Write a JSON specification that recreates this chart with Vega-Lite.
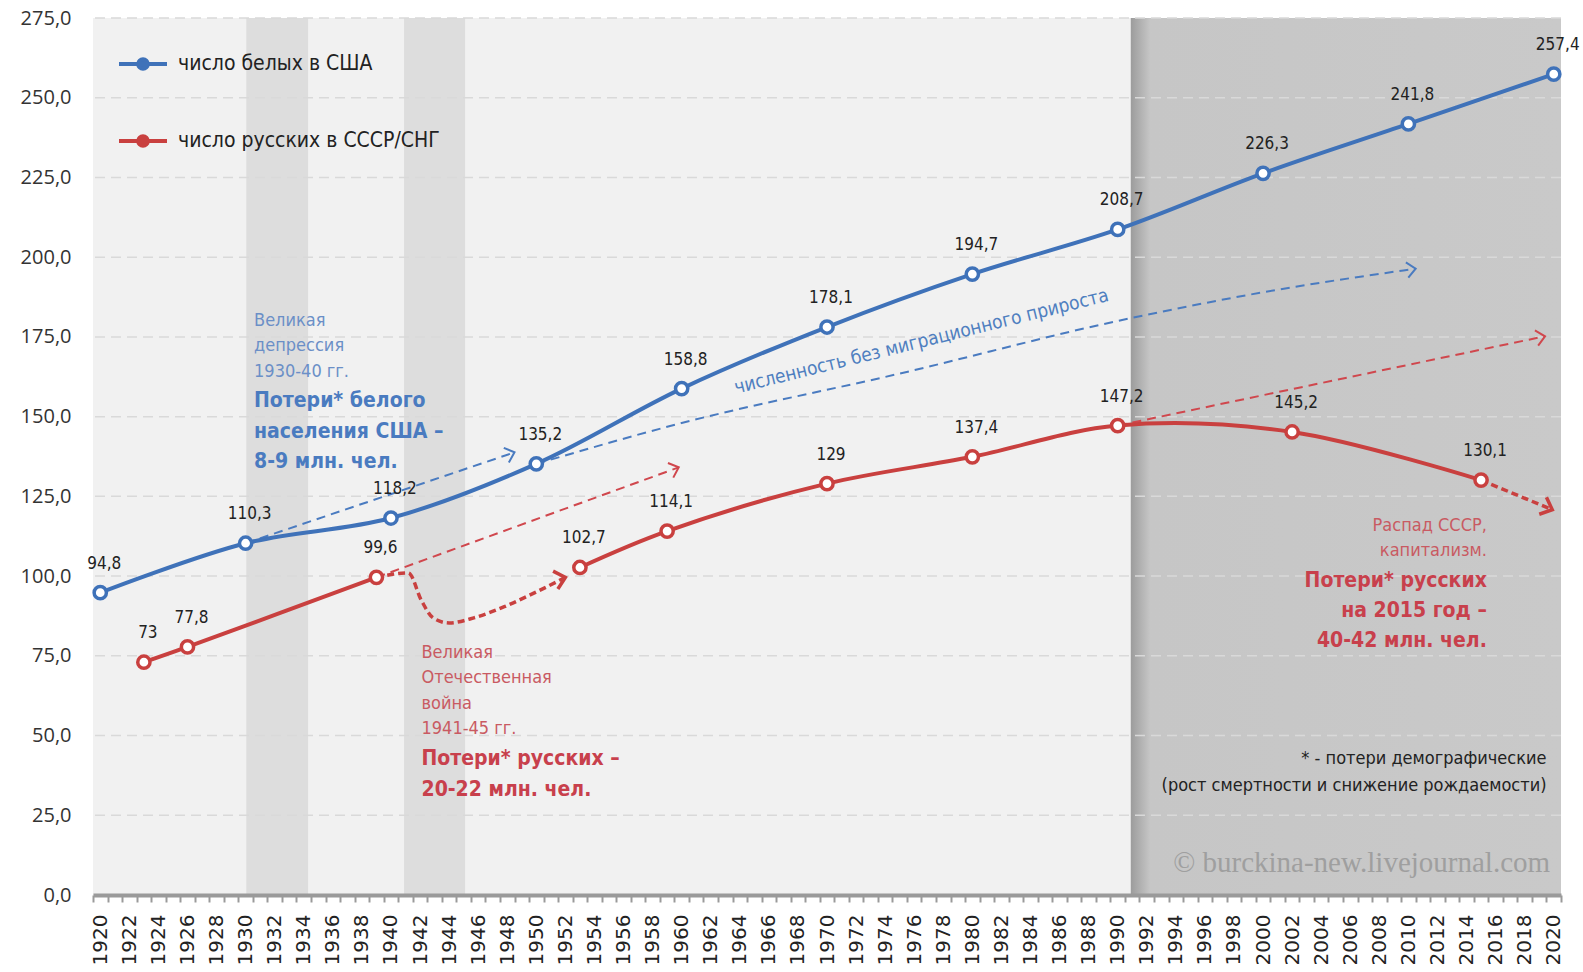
{
  "$schema": "https://vega.github.io/schema/vega-lite/v6.json",
  "width": 1468,
  "height": 877,
  "autosize": "none",
  "padding": {"left": 93, "top": 18, "right": 22, "bottom": 77},
  "background": "#ffffff",
  "config": {
    "view": {"stroke": null},
    "locale": {"number": {"decimal": ",", "thousands": " ", "grouping": [3], "currency": ["", ""]}},
    "font": "Liberation Sans Narrow, DejaVu Sans Condensed, Liberation Sans"
  },
  "resolve": {"axis": {"x": "independent"}},
  "datasets": {
    "lines": [
      {"series": "число белых в США", "seg": "us", "year": 1920, "value": 94.8},
      {"series": "число белых в США", "seg": "us", "year": 1930, "value": 110.3},
      {"series": "число белых в США", "seg": "us", "year": 1940, "value": 118.2},
      {"series": "число белых в США", "seg": "us", "year": 1950, "value": 135.2},
      {"series": "число белых в США", "seg": "us", "year": 1960, "value": 158.8},
      {"series": "число белых в США", "seg": "us", "year": 1970, "value": 178.1},
      {"series": "число белых в США", "seg": "us", "year": 1980, "value": 194.7},
      {"series": "число белых в США", "seg": "us", "year": 1990, "value": 208.7},
      {"series": "число белых в США", "seg": "us", "year": 2000, "value": 226.3},
      {"series": "число белых в США", "seg": "us", "year": 2010, "value": 241.8},
      {"series": "число белых в США", "seg": "us", "year": 2020, "value": 257.4},
      {"series": "число русских в СССР/СНГ", "seg": "ru1", "year": 1923, "value": 73},
      {"series": "число русских в СССР/СНГ", "seg": "ru1", "year": 1926, "value": 77.8},
      {"series": "число русских в СССР/СНГ", "seg": "ru1", "year": 1939, "value": 99.6},
      {"series": "число русских в СССР/СНГ", "seg": "ru2", "year": 1953, "value": 102.7},
      {"series": "число русских в СССР/СНГ", "seg": "ru2", "year": 1959, "value": 114.1},
      {"series": "число русских в СССР/СНГ", "seg": "ru2", "year": 1970, "value": 129},
      {"series": "число русских в СССР/СНГ", "seg": "ru2", "year": 1980, "value": 137.4},
      {"series": "число русских в СССР/СНГ", "seg": "ru2", "year": 1990, "value": 147.2},
      {"series": "число русских в СССР/СНГ", "seg": "ru2", "year": 2002, "value": 145.2},
      {"series": "число русских в СССР/СНГ", "seg": "ru2", "year": 2015, "value": 130.1}
    ],
    "dashUS": [
      {"id": "dep", "year": 1930, "value": 110.3},
      {"id": "dep", "year": 1948.5, "value": 138.8},
      {"id": "nomig", "year": 1950, "value": 135.2},
      {"id": "nomig", "year": 1960, "value": 148},
      {"id": "nomig", "year": 1975, "value": 163.5},
      {"id": "nomig", "year": 1990, "value": 180},
      {"id": "nomig", "year": 2000, "value": 189},
      {"id": "nomig", "year": 2010.5, "value": 196.4}
    ],
    "dashRU": [
      {"id": "war", "year": 1939, "value": 99.6},
      {"id": "war", "year": 1959.8, "value": 134.1},
      {"id": "post", "year": 1990, "value": 147.2},
      {"id": "post", "year": 2019.4, "value": 175.2}
    ],
    "dashRUthick": [
      {"id": "dip", "year": 1939, "value": 99.6},
      {"id": "dip", "year": 1941.2, "value": 101},
      {"id": "dip", "year": 1942.1, "value": 92.3},
      {"id": "dip", "year": 1942.9, "value": 86.9},
      {"id": "dip", "year": 1944, "value": 85.3},
      {"id": "dip", "year": 1945.7, "value": 86.9},
      {"id": "dip", "year": 1947.8, "value": 90.4},
      {"id": "dip", "year": 1949.9, "value": 94.8},
      {"id": "dip", "year": 1952, "value": 99.6},
      {"id": "fall", "year": 2015, "value": 130.1},
      {"id": "fall", "year": 2019.9, "value": 120.8}
    ]
  },
  "layer": [
    {
      "data": {"values": [{"x1": 1919.5, "x2": 2020.5}]},
      "mark": {"type": "rect", "color": "#f1f1f1"},
      "encoding": {
        "x": {"field": "x1", "type": "quantitative",
          "scale": {"domain": [1919.5, 2020.5], "nice": false, "zero": false},
          "axis": {
            "orient": "bottom",
            "title": null,
            "values": [1919.5,1920.5,1921.5,1922.5,1923.5,1924.5,1925.5,1926.5,1927.5,1928.5,1929.5,1930.5,1931.5,1932.5,1933.5,1934.5,1935.5,1936.5,1937.5,1938.5,1939.5,1940.5,1941.5,1942.5,1943.5,1944.5,1945.5,1946.5,1947.5,1948.5,1949.5,1950.5,1951.5,1952.5,1953.5,1954.5,1955.5,1956.5,1957.5,1958.5,1959.5,1960.5,1961.5,1962.5,1963.5,1964.5,1965.5,1966.5,1967.5,1968.5,1969.5,1970.5,1971.5,1972.5,1973.5,1974.5,1975.5,1976.5,1977.5,1978.5,1979.5,1980.5,1981.5,1982.5,1983.5,1984.5,1985.5,1986.5,1987.5,1988.5,1989.5,1990.5,1991.5,1992.5,1993.5,1994.5,1995.5,1996.5,1997.5,1998.5,1999.5,2000.5,2001.5,2002.5,2003.5,2004.5,2005.5,2006.5,2007.5,2008.5,2009.5,2010.5,2011.5,2012.5,2013.5,2014.5,2015.5,2016.5,2017.5,2018.5,2019.5,2020.5],
            "labels": false,
            "tickSize": 7,
            "tickWidth": 2,
            "tickColor": "#9a9a9a",
            "domainColor": "#9a9a9a",
            "domainWidth": 4,
            "grid": false,
            "zindex": 1
          }
        },
        "x2": {"field": "x2"},
        "y": {"datum": 0, "type": "quantitative",
          "scale": {"domain": [0, 275], "nice": false},
          "axis": {
            "title": null,
            "values": [0, 25, 50, 75, 100, 125, 150, 175, 200, 225, 250, 275],
            "format": ".1f",
            "grid": false,
            "domain": false,
            "ticks": false,
            "labelFont": "Open Sans",
            "labelFontSize": 20,
            "labelColor": "#333333",
            "labelPadding": 22
          }
        },
        "y2": {"datum": 275}
      }
    },
    {
      "data": {"values": [{"x1": 1930.05, "x2": 1934.3}, {"x1": 1940.9, "x2": 1945.1}]},
      "mark": {"type": "rect", "color": "#dddddd"},
      "encoding": {
        "x": {"field": "x1", "type": "quantitative",
          "axis": {
            "orient": "bottom",
            "title": null,
            "values": [1920,1922,1924,1926,1928,1930,1932,1934,1936,1938,1940,1942,1944,1946,1948,1950,1952,1954,1956,1958,1960,1962,1964,1966,1968,1970,1972,1974,1976,1978,1980,1982,1984,1986,1988,1990,1992,1994,1996,1998,2000,2002,2004,2006,2008,2010,2012,2014,2016,2018,2020],
            "format": "d",
            "labelAngle": 270,
            "labelFont": "DejaVu Sans",
            "labelFontSize": 20,
            "labelColor": "#222222",
            "labelPadding": 19,
            "labelOverlap": false,
            "labelFlush": false,
            "labelBound": false,
            "ticks": false,
            "domain": false,
            "grid": false,
            "zindex": 1
          }
        },
        "x2": {"field": "x2"},
        "y": {"datum": 0, "type": "quantitative"},
        "y2": {"datum": 275}
      }
    },
    {
      "data": {"values": [{"x1": 1990.9, "x2": 2020.5}]},
      "mark": {"type": "rect", "fill": {"gradient": "linear", "x1": 0, "y1": 0, "x2": 1, "y2": 0,
        "stops": [{"offset": 0, "color": "#9c9c9c"}, {"offset": 0.045, "color": "#c6c6c6"}, {"offset": 1, "color": "#c9c9c9"}]}},
      "encoding": {
        "x": {"field": "x1", "type": "quantitative", "axis": null},
        "x2": {"field": "x2"},
        "y": {"datum": 0, "type": "quantitative"},
        "y2": {"datum": 275}
      }
    },
    {
      "data": {"values": [{"v": 25}, {"v": 50}, {"v": 75}, {"v": 100}, {"v": 125}, {"v": 150}, {"v": 175}, {"v": 200}, {"v": 225}, {"v": 250}, {"v": 275}]},
      "mark": {"type": "rule", "color": "#d9d9d9", "strokeWidth": 1.5, "strokeDash": [10, 6]},
      "encoding": {"y": {"field": "v", "type": "quantitative"}}
    },
    {
      "data": {"name": "dashUS"},
      "mark": {"type": "line", "color": "#4a7bc0", "strokeWidth": 2, "strokeDash": [9, 6], "interpolate": "monotone"},
      "encoding": {
        "x": {"field": "year", "type": "quantitative", "axis": null},
        "y": {"field": "value", "type": "quantitative"},
        "detail": {"field": "id"}
      }
    },
    {
      "data": {"name": "dashRU"},
      "mark": {"type": "line", "color": "#d0474d", "strokeWidth": 2, "strokeDash": [9, 6]},
      "encoding": {
        "x": {"field": "year", "type": "quantitative", "axis": null},
        "y": {"field": "value", "type": "quantitative"},
        "detail": {"field": "id"}
      }
    },
    {
      "data": {"name": "dashRUthick"},
      "mark": {"type": "line", "color": "#c9403f", "strokeWidth": 3.5, "strokeDash": [7, 4], "interpolate": "monotone"},
      "encoding": {
        "x": {"field": "year", "type": "quantitative", "axis": null},
        "y": {"field": "value", "type": "quantitative"},
        "detail": {"field": "id"}
      }
    },
    {
      "data": {"values": [{"year": 1948.5, "value": 138.8}]},
      "mark": {"type": "point", "shape": "M-1,-0.9L0,0L-1,0.9", "size": 300, "filled": false, "color": "#4a7bc0", "strokeWidth": 2, "angle": -19, "opacity": 1},
      "encoding": {"x": {"field": "year", "type": "quantitative", "axis": null}, "y": {"field": "value", "type": "quantitative"}}
    },
    {
      "data": {"values": [{"year": 2010.5, "value": 196.4}]},
      "mark": {"type": "point", "shape": "M-1,-0.9L0,0L-1,0.9", "size": 300, "filled": false, "color": "#4a7bc0", "strokeWidth": 2, "angle": -9, "opacity": 1},
      "encoding": {"x": {"field": "year", "type": "quantitative", "axis": null}, "y": {"field": "value", "type": "quantitative"}}
    },
    {
      "data": {"values": [{"year": 1959.8, "value": 134.1}]},
      "mark": {"type": "point", "shape": "M-1,-0.9L0,0L-1,0.9", "size": 300, "filled": false, "color": "#d0474d", "strokeWidth": 2, "angle": -20, "opacity": 1},
      "encoding": {"x": {"field": "year", "type": "quantitative", "axis": null}, "y": {"field": "value", "type": "quantitative"}}
    },
    {
      "data": {"values": [{"year": 2019.4, "value": 175.2}]},
      "mark": {"type": "point", "shape": "M-1,-0.9L0,0L-1,0.9", "size": 300, "filled": false, "color": "#d0474d", "strokeWidth": 2, "angle": -12, "opacity": 1},
      "encoding": {"x": {"field": "year", "type": "quantitative", "axis": null}, "y": {"field": "value", "type": "quantitative"}}
    },
    {
      "data": {"values": [{"year": 1952, "value": 99.6}]},
      "mark": {"type": "point", "shape": "M-1,-0.9L0,0L-1,0.9", "size": 420, "filled": false, "color": "#c9403f", "strokeWidth": 3.5, "angle": -15, "opacity": 1},
      "encoding": {"x": {"field": "year", "type": "quantitative", "axis": null}, "y": {"field": "value", "type": "quantitative"}}
    },
    {
      "data": {"values": [{"year": 2019.9, "value": 120.8}]},
      "mark": {"type": "point", "shape": "M-1,-0.9L0,0L-1,0.9", "size": 420, "filled": false, "color": "#c9403f", "strokeWidth": 3.5, "angle": 23, "opacity": 1},
      "encoding": {"x": {"field": "year", "type": "quantitative", "axis": null}, "y": {"field": "value", "type": "quantitative"}}
    },
    {
      "data": {"name": "lines"},
      "mark": {"type": "line", "strokeWidth": 4, "interpolate": "catmull-rom"},
      "encoding": {
        "x": {"field": "year", "type": "quantitative", "axis": null},
        "y": {"field": "value", "type": "quantitative"},
        "detail": {"field": "seg"},
        "color": {"field": "series", "type": "nominal",
          "scale": {"domain": ["число белых в США", "число русских в СССР/СНГ"], "range": ["#3f72b9", "#c9403f"]},
          "legend": {
            "title": null,
            "orient": "none",
            "legendX": 24,
            "legendY": 20,
            "padding": 0,
            "symbolType": "M-1,0L1,0M0.2,0A0.2,0.2,0,1,1,-0.2,0A0.2,0.2,0,1,1,0.2,0Z",
            "symbolSize": 2304,
            "symbolStrokeWidth": 4,
            "labelFont": "Liberation Sans Narrow, DejaVu Sans Condensed, Liberation Sans",
            "labelFontSize": 21,
            "labelColor": "#222222",
            "labelOffset": 9,
            "labelLimit": 0,
            "rowPadding": 38,
            "encode": {"symbols": {"update": {
              "fill": {"scale": "color", "field": "value"},
              "stroke": {"scale": "color", "field": "value"},
              "opacity": {"value": 1}
            }}}
          }
        }
      }
    },
    {
      "data": {"name": "lines"},
      "mark": {"type": "point", "shape": "circle", "size": 150, "filled": true, "fill": "#ffffff", "fillOpacity": 1, "strokeWidth": 3.5, "opacity": 1},
      "encoding": {
        "x": {"field": "year", "type": "quantitative", "axis": null},
        "y": {"field": "value", "type": "quantitative"},
        "stroke": {"field": "series", "type": "nominal",
          "scale": {"domain": ["число белых в США", "число русских в СССР/СНГ"], "range": ["#3f72b9", "#c9403f"]},
          "legend": null}
      }
    },
    {
      "data": {"name": "lines"},
      "mark": {"type": "text", "fontSize": 17, "color": "#222222", "dx": 4, "dy": -29, "baseline": "middle", "align": "center"},
      "encoding": {
        "x": {"field": "year", "type": "quantitative", "axis": null},
        "y": {"field": "value", "type": "quantitative"},
        "text": {"field": "value", "type": "quantitative", "format": "~g"}
      }
    },
    {
      "data": {"values": [
        {"year": 1930.58, "value": 180.0, "t": "Великая\nдепрессия\n1930-40 гг."}
      ]},
      "mark": {"type": "text", "align": "left", "baseline": "middle", "fontSize": 18, "lineHeight": 25.3, "lineBreak": "\n", "color": "#6b8fc7"},
      "encoding": {"x": {"field": "year", "type": "quantitative", "axis": null}, "y": {"field": "value", "type": "quantitative"}, "text": {"field": "t"}}
    },
    {
      "data": {"values": [
        {"year": 1930.58, "value": 154.9, "t": "Потери* белого\nнаселения США –\n8-9 млн. чел."}
      ]},
      "mark": {"type": "text", "align": "left", "baseline": "middle", "fontSize": 21, "fontWeight": "bold", "lineHeight": 30.5, "lineBreak": "\n", "color": "#4a7bc0"},
      "encoding": {"x": {"field": "year", "type": "quantitative", "axis": null}, "y": {"field": "value", "type": "quantitative"}, "text": {"field": "t"}}
    },
    {
      "data": {"values": [
        {"year": 1942.1, "value": 75.9, "t": "Великая\nОтечественная\nвойна\n1941-45 гг."}
      ]},
      "mark": {"type": "text", "align": "left", "baseline": "middle", "fontSize": 18, "lineHeight": 25.3, "lineBreak": "\n", "color": "#c95a62"},
      "encoding": {"x": {"field": "year", "type": "quantitative", "axis": null}, "y": {"field": "value", "type": "quantitative"}, "text": {"field": "t"}}
    },
    {
      "data": {"values": [
        {"year": 2015.4, "value": 115.7, "t": "Распад СССР,\nкапитализм."}
      ]},
      "mark": {"type": "text", "align": "right", "baseline": "middle", "fontSize": 18, "lineHeight": 25.3, "lineBreak": "\n", "color": "#c95a62"},
      "encoding": {"x": {"field": "year", "type": "quantitative", "axis": null}, "y": {"field": "value", "type": "quantitative"}, "text": {"field": "t"}}
    },
    {
      "data": {"values": [
        {"year": 1942.1, "value": 42.6, "t": "Потери* русских –\n20-22 млн. чел."}
      ]},
      "mark": {"type": "text", "align": "left", "baseline": "middle", "fontSize": 21, "fontWeight": "bold", "lineHeight": 30.5, "lineBreak": "\n", "color": "#c8404c"},
      "encoding": {"x": {"field": "year", "type": "quantitative", "axis": null}, "y": {"field": "value", "type": "quantitative"}, "text": {"field": "t"}}
    },
    {
      "data": {"values": [
        {"year": 2015.4, "value": 98.6, "t": "Потери* русских\nна 2015 год –\n40-42 млн. чел."}
      ]},
      "mark": {"type": "text", "align": "right", "baseline": "middle", "fontSize": 21, "fontWeight": "bold", "lineHeight": 30.3, "lineBreak": "\n", "color": "#c8404c"},
      "encoding": {"x": {"field": "year", "type": "quantitative", "axis": null}, "y": {"field": "value", "type": "quantitative"}, "text": {"field": "t"}}
    },
    {
      "data": {"values": [
        {"year": 2019.5, "value": 42.6, "t": "* - потери демографические\n(рост смертности и снижение рождаемости)"}
      ]},
      "mark": {"type": "text", "align": "right", "baseline": "middle", "fontSize": 18, "lineHeight": 26.4, "lineBreak": "\n", "color": "#222222"},
      "encoding": {"x": {"field": "year", "type": "quantitative", "axis": null}, "y": {"field": "value", "type": "quantitative"}, "text": {"field": "t"}}
    },
    {
      "data": {"values": [
        {"year": 2019.75, "value": 10.0, "t": "© burckina-new.livejournal.com"}
      ]},
      "mark": {"type": "text", "align": "right", "baseline": "middle", "fontSize": 29, "font": "Liberation Serif, DejaVu Serif", "color": "#9f9f9f"},
      "encoding": {"x": {"field": "year", "type": "quantitative", "axis": null}, "y": {"field": "value", "type": "quantitative"}, "text": {"field": "t"}}
    },
    {
      "data": {"values": [
        {"year": 1976.5, "value": 173.6, "t": "численность без миграционного прироста"}
      ]},
      "mark": {"type": "text", "align": "center", "baseline": "middle", "fontSize": 19, "angle": -14, "color": "#4f7fc0"},
      "encoding": {"x": {"field": "year", "type": "quantitative", "axis": null}, "y": {"field": "value", "type": "quantitative"}, "text": {"field": "t"}}
    }
  ]
}
